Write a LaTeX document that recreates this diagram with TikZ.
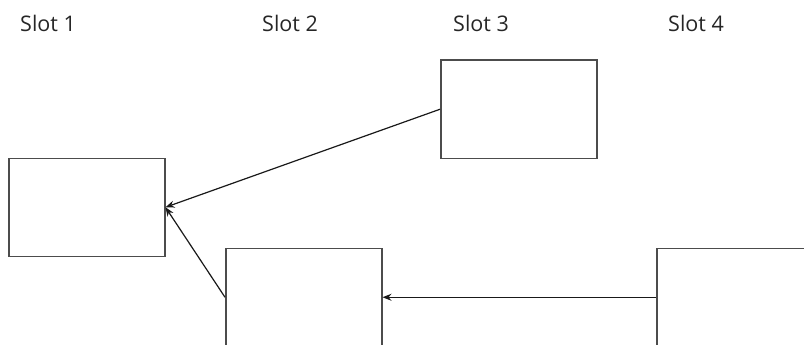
\documentclass[tikz,border=0pt]{standalone}
\usepackage{fontspec}
\setmainfont{Open Sans}
\usetikzlibrary{arrows.meta}
\begin{document}
\begin{tikzpicture}[x=1pt,y=-1pt,
  card/.style={draw=black!70,line width=1.5pt,fill=white,minimum width=156pt,minimum height=98pt,inner sep=0pt,anchor=north west},
  slotlabel/.style={anchor=base west,inner sep=0pt,text=black!85,font=\fontsize{21.5}{26}\selectfont},
  link/.style={draw=black!90,line width=1.2pt,-{Stealth[length=9pt,width=7pt]}}]
  \useasboundingbox (0,0) rectangle (804,345);
  \clip (0,0) rectangle (804,345);
  % column headings
  \node[slotlabel] (s1) at (20,32) {Slot 1};
  \node[slotlabel] (s2) at (262,32) {Slot 2};
  \node[slotlabel] (s3) at (453,32) {Slot 3};
  \node[slotlabel] (s4) at (668,32) {Slot 4};
  % cards
  \node[card] (a) at (8,157.5) {};
  \node[card] (b) at (440,59.5) {};
  \node[card] (c) at (225,247.5) {};
  \node[card] (d) at (656,247.5) {};
  % links
  \draw[link] (b.west) -- (a.east);
  \draw[link] (c.west) -- (a.east);
  \draw[link] (d.west) -- (c.east);
\end{tikzpicture}
\end{document}
